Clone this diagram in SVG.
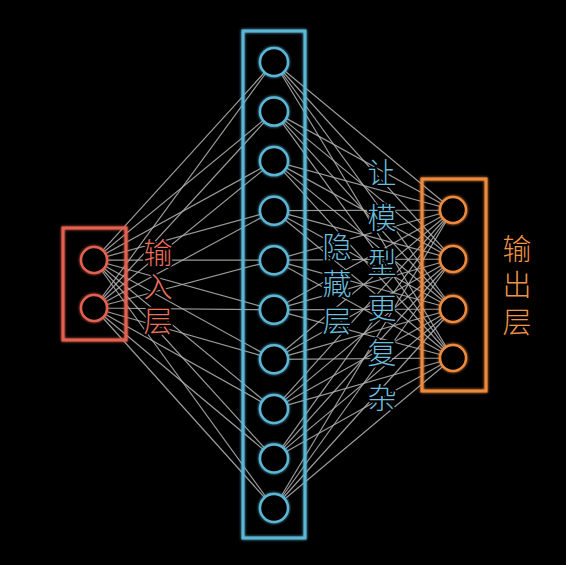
<svg xmlns="http://www.w3.org/2000/svg" width="566" height="565" viewBox="0 0 566 565">
<defs>
<style>
.ln{stroke:#b4b4b4;stroke-width:1.2;stroke-opacity:0.85;fill:none}
.in{stroke:#e4614f;fill:none;stroke-width:3}
.hd{stroke:#5cb6d6;fill:none;stroke-width:3}
.ot{stroke:#ee8a3d;fill:none;stroke-width:3}
.nd{fill:#000;stroke-width:2.5}
.t{font-family:"Noto Sans CJK SC","Noto Sans",sans-serif;font-size:29px;font-weight:300;writing-mode:vertical-rl;text-orientation:upright;stroke:#000;stroke-width:4;paint-order:stroke;stroke-linejoin:round}
</style>
<filter id="g" x="-20%" y="-20%" width="140%" height="140%"><feGaussianBlur stdDeviation="1.5" result="b"/><feMerge><feMergeNode in="b"/><feMergeNode in="SourceGraphic"/></feMerge></filter>
</defs>
<rect width="566" height="565" fill="#000"/>
<g id="connectors">
<path class="ln" d="M94 260L274 62M94 260L274 111.6M94 260L274 161.1M94 260L274 210.7M94 260L274 260.2M94 260L274 309.8M94 260L274 359.3M94 260L274 408.9M94 260L274 458.4M94 260L274 508"/>
<path class="ln" d="M94 308L274 62M94 308L274 111.6M94 308L274 161.1M94 308L274 210.7M94 308L274 260.2M94 308L274 309.8M94 308L274 359.3M94 308L274 408.9M94 308L274 458.4M94 308L274 508"/>
<path class="ln" d="M453 210L274 62M453 210L274 111.6M453 210L274 161.1M453 210L274 210.7M453 210L274 260.2M453 210L274 309.8M453 210L274 359.3M453 210L274 408.9M453 210L274 458.4M453 210L274 508"/>
<path class="ln" d="M453 259L274 62M453 259L274 111.6M453 259L274 161.1M453 259L274 210.7M453 259L274 260.2M453 259L274 309.8M453 259L274 359.3M453 259L274 408.9M453 259L274 458.4M453 259L274 508"/>
<path class="ln" d="M453 309L274 62M453 309L274 111.6M453 309L274 161.1M453 309L274 210.7M453 309L274 260.2M453 309L274 309.8M453 309L274 359.3M453 309L274 408.9M453 309L274 458.4M453 309L274 508"/>
<path class="ln" d="M453 358L274 62M453 358L274 111.6M453 358L274 161.1M453 358L274 210.7M453 358L274 260.2M453 358L274 309.8M453 358L274 359.3M453 358L274 408.9M453 358L274 458.4M453 358L274 508"/>
</g>
<g id="input-layer" filter="url(#g)">
<rect class="in" x="63" y="228" width="63" height="112"/>
<circle class="in nd" cx="94" cy="260" r="13"/>
<circle class="in nd" cx="94" cy="308" r="13"/>
</g>
<g id="hidden-layer" filter="url(#g)">
<rect class="hd" x="243" y="31" width="62" height="507"/>
<circle class="hd nd" cx="274" cy="62" r="14"/>
<circle class="hd nd" cx="274" cy="111.6" r="14"/>
<circle class="hd nd" cx="274" cy="161.1" r="14"/>
<circle class="hd nd" cx="274" cy="210.7" r="14"/>
<circle class="hd nd" cx="274" cy="260.2" r="14"/>
<circle class="hd nd" cx="274" cy="309.8" r="14"/>
<circle class="hd nd" cx="274" cy="359.3" r="14"/>
<circle class="hd nd" cx="274" cy="408.9" r="14"/>
<circle class="hd nd" cx="274" cy="458.4" r="14"/>
<circle class="hd nd" cx="274" cy="508" r="14"/>
</g>
<g id="output-layer" filter="url(#g)">
<rect class="ot" x="422" y="179" width="64" height="212"/>
<circle class="ot nd" cx="453" cy="210" r="13"/>
<circle class="ot nd" cx="453" cy="259" r="13"/>
<circle class="ot nd" cx="453" cy="309" r="13"/>
<circle class="ot nd" cx="453" cy="358" r="13"/>
</g>
<g id="labels">
<text class="t" fill="#e8705c" x="158" y="238" letter-spacing="5">输入层</text>
<text class="t" fill="#6cbedc" x="337" y="232" letter-spacing="8">隐藏层</text>
<text class="t" fill="#6cbedc" x="382" y="158" letter-spacing="16">让模型更复杂</text>
<text class="t" fill="#f0944a" x="517" y="234" letter-spacing="7.5">输出层</text>
</g>
</svg>
